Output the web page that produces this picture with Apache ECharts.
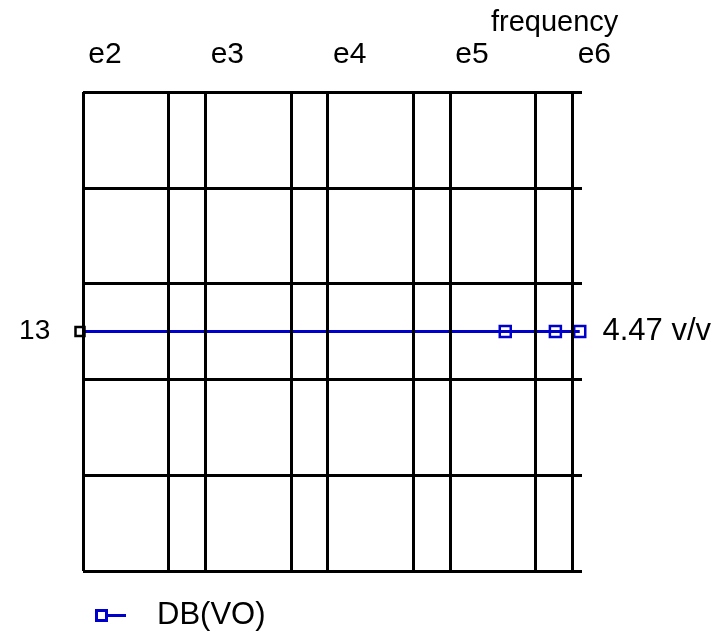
<!DOCTYPE html>
<html>
<head>
<meta charset="utf-8">
<script src="https://cdn.jsdelivr.net/npm/echarts@6/dist/echarts.min.js"></script>
<style>
  html, body { margin: 0; padding: 0; background: #fff; }
  #chart { width: 727px; height: 636px; }
</style>
</head>
<body>
<div id="chart"></div>
<script>
// Frequency sweep of DB(VO): flat gain across the band
const seriesName = 'DB(VO)';
const frequencies = [100, 2.83e5, 7.27e5, 1.15e6];   // Hz, marker points
const dbValues = [13, 13, 13, 13];                    // dB
const tickValues = [1e2, 1e3, 1e4, 1e5, 1e6];
const tickLabels = ['e2', 'e3', 'e4', 'e5', 'e6'];
const gridFreqs = [1e2, 5e2, 1e3, 5e3, 1e4, 5e4, 1e5, 5e5, 1e6];  // vertical grid lines

const FONT = 'Liberation Sans, Arial, Helvetica, sans-serif';
const BLUE = '#0000cc';
const lastIdx = frequencies.length - 1;

const points = frequencies.map((f, i) => {
  const item = { value: [f, dbValues[i]] };
  if (i === 0) {
    item.symbolSize = 9;
    item.symbolOffset = [-3, 0];
    item.itemStyle = { borderColor: '#000', borderWidth: 2.5, color: 'rgba(0,0,0,0)' };
    item.label = {
      show: true, position: 'left', distance: 24, fontSize: 28,
      formatter: p => String(p.value[1])
    };
  }
  if (i === lastIdx) {
    item.label = {
      show: true, position: 'right', distance: 16,
      formatter: p => Math.pow(10, p.value[1] / 20).toFixed(2) + ' v/v'
    };
  }
  return item;
});

const chart = echarts.init(document.getElementById('chart'));
chart.setOption({
  animation: false,
  backgroundColor: '#fff',
  textStyle: { fontFamily: FONT },
  title: {
    text: 'frequency',
    left: 486, top: 3,
    textStyle: { fontFamily: FONT, fontSize: 29, fontWeight: 'normal', color: '#000' }
  },
  grid: { left: 83, right: 145, top: 92, bottom: 65 },
  xAxis: {
    type: 'log',
    logBase: 10,
    min: 100,
    max: 1.2e6,
    position: 'top',
    axisLine: { show: false },
    axisTick: { show: false },
    splitLine: { show: false },
    axisLabel: {
      color: '#000',
      fontFamily: FONT,
      fontSize: 30,
      lineHeight: 30,
      margin: 22,
      padding: [0, 0, 0, 44],
      showMaxLabel: false,
      formatter: v => {
        const k = tickValues.findIndex(t => Math.abs(t - v) / t < 1e-6);
        return k >= 0 ? tickLabels[k] : '';
      }
    }
  },
  yAxis: {
    type: 'value',
    min: 8,
    max: 18,
    interval: 2,
    axisLine: { show: false },
    axisTick: { show: false },
    axisLabel: { show: false },
    splitLine: { show: true, lineStyle: { color: '#000', width: 3 } }
  },
  legend: {
    left: 95,
    top: 600,
    padding: 0,
    itemWidth: 31,
    itemHeight: 13,
    icon: 'path://M0,0 H13 V13 H0 Z M3,3 V10 H10 V3 Z M13,5 H31 V8 H13 Z',
    itemStyle: { color: BLUE, borderWidth: 0 },
    textStyle: {
      fontFamily: FONT, fontSize: 31, color: '#000',
      padding: [0, 0, 0, 26]
    },
    data: [seriesName]
  },
  series: [
    {
      name: seriesName,
      type: 'line',
      data: points,
      symbol: 'rect',
      symbolSize: 11,
      clip: false,
      z: 3,
      lineStyle: { color: BLUE, width: 3 },
      itemStyle: { color: 'rgba(0,0,0,0)', borderColor: BLUE, borderWidth: 2.5 },
      label: { color: '#000', fontFamily: FONT, fontSize: 31 },
      emphasis: { disabled: true }
    },
    {
      name: 'grid',
      type: 'line',
      data: [],
      z: 4,
      silent: true,
      markLine: {
        silent: true,
        symbol: ['none', 'none'],
        label: { show: false },
        lineStyle: { color: '#000', width: 3, type: 'solid' },
        emphasis: { disabled: true },
        data: gridFreqs.map(f => ({ xAxis: f }))
      }
    }
  ]
});
</script>
</body>
</html>
